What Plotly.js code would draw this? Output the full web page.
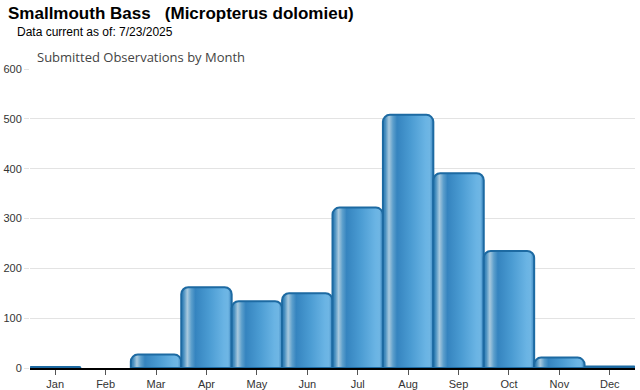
<!DOCTYPE html>
<html><head><meta charset="utf-8">
<script src="https://cdn.plot.ly/plotly-3.0.1.min.js"></script>
<style>html,body{margin:0;padding:0;background:#fff}#chart{width:640px;height:390px}</style>
</head><body><div id="chart"></div>
<script>
var months = ["Jan","Feb","Mar","Apr","May","Jun","Jul","Aug","Sep","Oct","Nov","Dec"];
var observations = [2, 0, 27, 162, 134, 150, 322, 508, 391, 235, 21, 3];
var yTicks = [0, 100, 200, 300, 400, 500, 600];
var titleText = "Smallmouth Bass&nbsp;&nbsp;&nbsp;(Micropterus dolomieu)";
var dateText = "Data current as of: 7/23/2025";
var subTitle = "Submitted Observations by Month";

var trace = {
  type: "bar", x: months, y: observations,
  marker: {color: "#3a8cc6", line: {color: "#1d6aa2", width: observations.map(function(v){ return v > 0 ? 2 : 0; })}},
  hoverinfo: "x+y"
};
var layout = {
  width: 640, height: 390,
  margin: {l: 30, r: 5, t: 69, b: 22},
  paper_bgcolor: "#fff", plot_bgcolor: "#fff",
  bargap: 0, barcornerradius: 7,
  showlegend: false,
  font: {family: "Liberation Sans, Arial, sans-serif", size: 11, color: "#333"},
  xaxis: {type: "category", showgrid: false, showline: true, linecolor: "#000", linewidth: 2,
    ticks: "outside", ticklen: 5, tickcolor: "#555", tickfont: {size: 11, color: "#333"}, fixedrange: true},
  yaxis: {range: [0, 600], tickvals: yTicks, showgrid: true, gridcolor: "#e3e3e3", gridwidth: 1,
    zeroline: false, showline: false, ticks: "outside", ticklen: 5, tickcolor: "#e3e3e3",
    tickfont: {size: 11, color: "#333"}, fixedrange: true},
  annotations: [
    {xref: "paper", yref: "paper", x: -0.04, y: 1, xanchor: "left", yanchor: "bottom", yshift: 44,
     text: "<b>" + titleText + "</b>", showarrow: false,
     font: {family: "Liberation Sans, Arial, sans-serif", size: 17, color: "#000"}},
    {xref: "paper", yref: "paper", x: -0.025, y: 1, xanchor: "left", yanchor: "bottom", yshift: 28,
     text: dateText, showarrow: false,
     font: {family: "Liberation Sans, Arial, sans-serif", size: 12, color: "#000"}},
    {xref: "paper", yref: "paper", x: 0.008, y: 1, xanchor: "left", yanchor: "bottom", yshift: 1,
     text: subTitle, showarrow: false,
     font: {family: "Open Sans, sans-serif", size: 13, color: "#444"}}
  ]
};
Plotly.newPlot("chart", [trace], layout, {displayModeBar: false, staticPlot: true}).then(function(gd){
  var svg = gd.querySelector("svg.main-svg");
  var ns = "http://www.w3.org/2000/svg";
  var defs = svg.querySelector("defs") || svg.insertBefore(document.createElementNS(ns, "defs"), svg.firstChild);
  var lg = document.createElementNS(ns, "linearGradient");
  lg.setAttribute("id", "barGrad");
  lg.setAttribute("x1", "0"); lg.setAttribute("x2", "1"); lg.setAttribute("y1", "0"); lg.setAttribute("y2", "0");
  var stops = [[0, "#2a78b2"], [0.05, "#4a90c0"], [0.12, "#a8c9de"], [0.2, "#5c9fcc"], [0.28, "#3584bf"],
               [0.55, "#4a9bd2"], [0.85, "#6ab4e4"], [0.93, "#6fb6e4"], [1, "#3c86c0"]];
  stops.forEach(function(s){
    var st = document.createElementNS(ns, "stop");
    st.setAttribute("offset", s[0]); st.setAttribute("stop-color", s[1]);
    lg.appendChild(st);
  });
  defs.appendChild(lg);
  gd.querySelectorAll(".bars .point path").forEach(function(p){ p.style.fill = "url(#barGrad)"; });
});
</script></body></html>
